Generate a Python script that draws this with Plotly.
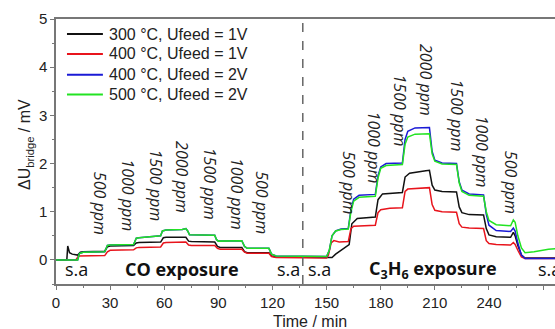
import plotly.graph_objects as go

# ---------------- data ----------------
series_names = ["300 °C, Ufeed = 1V", "400 °C, Ufeed = 1V",
                "400 °C, Ufeed = 2V", "500 °C, Ufeed = 2V"]
series_colors = ["#111111", "#e8141c", "#1a1ad6", "#22e322"]

t_black = [0, 6, 6.5, 7.5, 9, 12, 13.5, 15, 27, 28.5, 30, 43, 44.5, 46, 58, 59.5, 61, 72, 73.5, 75,
           88, 89.5, 91, 103, 104.5, 106, 118, 119.5, 122, 150, 153, 155, 160, 162.5, 164, 167, 177,
           178.5, 181, 192, 193.5, 196, 205, 207, 208.5, 210, 214, 222, 223.5, 225, 229, 237, 238.5,
           240, 244, 252, 253.5, 254.5, 256, 258, 260, 285]
v_black = [0, 0, 0.29, 0.15, 0.12, 0.10, 0.16, 0.17, 0.18, 0.27, 0.29, 0.30, 0.35, 0.36, 0.37, 0.46,
           0.47, 0.47, 0.39, 0.38, 0.37, 0.28, 0.26, 0.26, 0.17, 0.15, 0.15, 0.08, 0.06, 0.05, 0.05,
           0.12, 0.25, 0.32, 0.75, 0.86, 0.89, 1.25, 1.37, 1.40, 1.72, 1.80, 1.85, 1.86, 1.55, 1.45,
           1.42, 1.41, 1.10, 0.98, 0.94, 0.93, 0.65, 0.52, 0.48, 0.47, 0.57, 0.50, 0.30, 0.10, 0.04, 0.04]

t_red = [0, 11, 12.5, 27, 28.5, 30, 43, 44.5, 46, 58, 59.5, 61, 72, 73.5, 75, 88, 89.5, 91, 103,
         104.5, 106, 118, 119.5, 122, 150, 151, 152.5, 154, 157, 162, 163.5, 165, 177, 178.5, 180,
         185, 192, 193.5, 195, 207, 208.5, 210, 214, 222, 223.5, 225, 229, 237, 238.5, 240, 244, 252,
         253.5, 254.5, 256, 258, 260, 285]
v_red = [0, 0, 0.08, 0.09, 0.17, 0.20, 0.21, 0.25, 0.26, 0.27, 0.35, 0.36, 0.37, 0.31, 0.30, 0.30,
         0.24, 0.22, 0.22, 0.16, 0.14, 0.14, 0.07, 0.05, 0.04, 0.10, 0.35, 0.40, 0.37, 0.38, 0.65,
         0.70, 0.72, 0.98, 1.04, 1.07, 1.08, 1.42, 1.47, 1.50, 1.15, 1.03, 1.00, 0.99, 0.75, 0.68,
         0.66, 0.65, 0.40, 0.34, 0.32, 0.31, 0.36, 0.32, 0.20, 0.06, 0.03, 0.03]

t_blue = [0, 12, 13, 15, 27, 28.5, 30, 43, 44.5, 46, 58, 59, 61, 70, 72, 73, 74, 88, 89, 90, 103,
          104.5, 106, 118, 119.5, 122, 150, 151.5, 153, 155, 158, 162, 163.5, 165, 168, 177, 178.5,
          180, 183, 192, 193.5, 195, 199, 207, 208.5, 210, 214, 222, 223.5, 225, 229, 237, 238.5,
          240, 244, 252, 253.5, 254.5, 256, 258, 260, 285]
v_blue = [0, 0, 0.13, 0.16, 0.17, 0.30, 0.31, 0.32, 0.45, 0.46, 0.50, 0.60, 0.62, 0.63, 0.65, 0.60,
          0.52, 0.51, 0.42, 0.39, 0.40, 0.28, 0.24, 0.24, 0.12, 0.08, 0.07, 0.20, 0.50, 0.60, 0.64,
          0.65, 1.05, 1.26, 1.34, 1.36, 1.75, 1.93, 2.00, 2.01, 2.50, 2.67, 2.74, 2.75, 2.25, 2.07,
          2.01, 2.00, 1.62, 1.45, 1.37, 1.35, 0.95, 0.72, 0.61, 0.59, 0.66, 0.60, 0.35, 0.10, 0.03, 0.03]

t_green = [0, 12, 13, 15, 27, 28.5, 30, 43, 44.5, 46, 58, 59, 61, 70, 72, 73, 74, 88, 89, 90, 103,
           104.5, 106, 118, 119.5, 122, 150, 151.5, 153, 155, 158, 162, 163.5, 165, 168, 177, 178.5,
           180, 183, 192, 193.5, 195, 199, 207, 208.5, 210, 214, 222, 223.5, 225, 229, 237, 238.5,
           240, 244, 252, 253.5, 254.5, 256, 258, 260, 265, 273, 285]
v_green = [0, 0, 0.13, 0.16, 0.17, 0.30, 0.31, 0.32, 0.45, 0.46, 0.50, 0.60, 0.62, 0.63, 0.65, 0.60,
           0.52, 0.51, 0.42, 0.39, 0.40, 0.28, 0.24, 0.24, 0.12, 0.08, 0.07, 0.20, 0.50, 0.60, 0.63,
           0.64, 1.00, 1.22, 1.30, 1.32, 1.70, 1.90, 1.96, 1.98, 2.40, 2.55, 2.61, 2.62, 2.20, 2.05,
           1.99, 1.98, 1.60, 1.42, 1.34, 1.32, 1.00, 0.82, 0.73, 0.71, 0.83, 0.78, 0.50, 0.25, 0.15,
           0.17, 0.22, 0.26]

# concentration labels (time, height, text)
ppm_t = [24.5, 40.2, 55.6, 69.8, 85.1, 100.3, 114.1,
         162.7, 176.3, 190.7, 205.5, 222.2, 236.6, 252.2]
ppm_v = [1.18, 1.35, 1.54, 1.72, 1.59, 1.37, 1.18,
         1.60, 2.33, 3.10, 3.74, 3.00, 2.25, 1.60]
ppm_text = ["500 ppm", "1000 ppm", "1500 ppm", "2000 ppm", "1500 ppm", "1000 ppm", "500 ppm",
            "500 ppm", "1000 ppm", "1500 ppm", "2000 ppm", "1500 ppm", "1000 ppm", "500 ppm"]

# phase labels
phase_t = [11.6, 69.8, 128.7, 145.9, 208.8]
phase_text = ["s.a", "<b>CO exposure</b>", "s.a", "s.a", "<b>C<sub>3</sub>H<sub>6</sub> exposure</b>"]
switch_time = 136.8

x_ticks = [0, 30, 60, 90, 120, 150, 180, 210, 240, 270]
y_ticks = [0, 1, 2, 3, 4, 5]

# ---------------- figure ----------------
fig = go.Figure()
all_t = [t_black, t_red, t_blue, t_green]
all_v = [v_black, v_red, v_blue, v_green]
for name, col, tt, vv in zip(series_names, series_colors, all_t, all_v):
    fig.add_trace(go.Scatter(x=tt, y=vv, mode="lines", name=name, showlegend=False,
                             line=dict(color=col, width=1.5)))

# legend (drawn as line samples + labels in the upper-left corner)
leg_y = [0.943, 0.868, 0.790, 0.715]
for name, col, ly in zip(series_names, series_colors, leg_y):
    fig.add_shape(type="line", xref="paper", yref="paper", x0=0.022, x1=0.094, y0=ly, y1=ly,
                  line=dict(color=col, width=2))
    fig.add_annotation(x=0.102, y=ly, xref="paper", yref="paper", text=name, showarrow=False,
                       xanchor="left", yanchor="middle",
                       font=dict(family="Liberation Sans", size=16, color="#222"))

for t, v, s in zip(ppm_t, ppm_v, ppm_text):
    fig.add_annotation(x=t, y=v, text=f"<i>{s}</i>", showarrow=False, textangle=90,
                       font=dict(family="Open Sans", size=16, color="#222"))

for t, s in zip(phase_t, phase_text):
    fig.add_annotation(x=t, y=-0.19, text=s, showarrow=False,
                       font=dict(family="Open Sans", size=18, color="#111"))
fig.add_annotation(x=1.0, y=-0.19, text="s.a", showarrow=False, xref="paper", xanchor="center",
                   xshift=-6, font=dict(family="Open Sans", size=18, color="#111"))

fig.add_vline(x=switch_time, line=dict(color="#666", width=1.5, dash="dash"))

fig.add_annotation(x=0.51, y=-0.1, xref="paper", yref="paper", text="Time / min",
                   showarrow=False, xanchor="center", yanchor="top",
                   font=dict(family="Liberation Sans", size=16, color="#222"))
fig.add_annotation(x=-0.06, y=0.525, xref="paper", yref="paper", xanchor="center",
                   yanchor="middle", text="ΔU<sub>bridge</sub> / mV", textangle=-90, showarrow=False,
                   font=dict(family="Liberation Sans", size=16, color="#222"))

axis_common = dict(showline=True, linecolor="#777", linewidth=1.5, ticks="outside",
                   ticklen=4, tickwidth=1, tickcolor="#777", showgrid=False, zeroline=False,
                   tickfont=dict(family="Liberation Sans", size=15, color="#222"))
fig.update_xaxes(range=[0, 276.6], tickvals=x_ticks, mirror=True,
                 minor=dict(dtick=15, tick0=0, ticklen=2, ticks="outside", tickcolor="#777"),
                 **axis_common)
fig.update_yaxes(range=[-0.5, 5], tickvals=y_ticks,
                 minor=dict(dtick=0.5, tick0=0, ticklen=2, ticks="outside", tickcolor="#777"),
                 **axis_common)

fig.update_layout(
    width=555, height=329,
    margin=dict(l=56, r=0, t=19, b=45),
    plot_bgcolor="white", paper_bgcolor="white",
    showlegend=False,
)

fig.write_html("out.html", config={"displayModeBar": False},
               post_script="document.body.style.margin='0';")
